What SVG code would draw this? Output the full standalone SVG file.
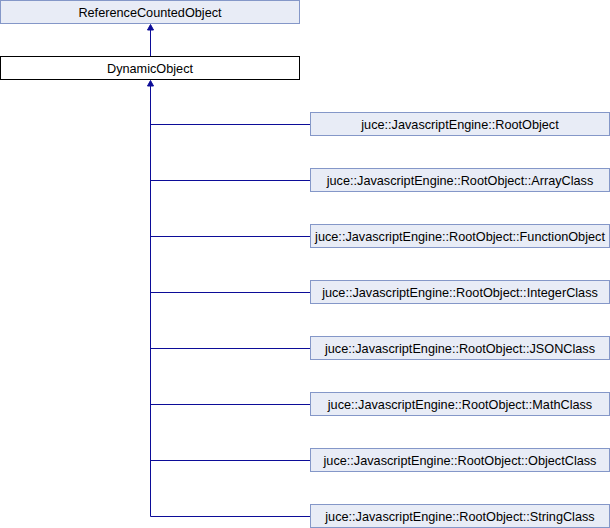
<svg xmlns="http://www.w3.org/2000/svg" width="610" height="528" viewBox="0 0 610 528">
<defs>
<style>
.base{fill:#e8ecf6;stroke:#8497c8;stroke-width:1}
.cur{fill:#ffffff;stroke:#000000;stroke-width:1}
text{font-family:"Liberation Sans",Arial,sans-serif;font-size:12.7px;fill:#000;text-anchor:middle}
.edge{stroke:#0c0c98;stroke-width:1;fill:none}
.head{fill:#0c0c98;stroke:#0c0c98;stroke-width:1}
</style>
</defs>
<rect width="610" height="528" fill="#ffffff"/>
<g id="connectors">
<path class="edge" d="M150.5,56 V29"/>
<polygon class="head" points="150.5,24.5 147.5,30 153.5,30"/>
<path class="edge" d="M150.5,516.5 V85"/>
<polygon class="head" points="150.5,80.5 147.5,86 153.5,86"/>
<path class="edge" d="M150.5,124.5 H310.5 M150.5,180.5 H310.5 M150.5,236.5 H310.5 M150.5,292.5 H310.5 M150.5,348.5 H310.5 M150.5,404.5 H310.5 M150.5,460.5 H310.5 M150.5,516.5 H310.5"/>
</g>
<g id="ReferenceCountedObject">
<rect class="base" x="0.5" y="0.5" width="299" height="23"/>
<text x="150" y="16.5">ReferenceCountedObject</text>
</g>
<g id="DynamicObject">
<rect class="cur" x="0.5" y="56.5" width="299" height="23"/>
<text x="150" y="72.5">DynamicObject</text>
</g>
<g id="RootObject">
<rect class="base" x="310.5" y="112.5" width="299" height="23"/>
<text x="460" y="128.5">juce::JavascriptEngine::RootObject</text>
</g>
<g id="ArrayClass">
<rect class="base" x="310.5" y="168.5" width="299" height="23"/>
<text x="460" y="184.5">juce::JavascriptEngine::RootObject::ArrayClass</text>
</g>
<g id="FunctionObject">
<rect class="base" x="310.5" y="224.5" width="299" height="23"/>
<text x="460" y="240.5">juce::JavascriptEngine::RootObject::FunctionObject</text>
</g>
<g id="IntegerClass">
<rect class="base" x="310.5" y="280.5" width="299" height="23"/>
<text x="460" y="296.5">juce::JavascriptEngine::RootObject::IntegerClass</text>
</g>
<g id="JSONClass">
<rect class="base" x="310.5" y="336.5" width="299" height="23"/>
<text x="460" y="352.5">juce::JavascriptEngine::RootObject::JSONClass</text>
</g>
<g id="MathClass">
<rect class="base" x="310.5" y="392.5" width="299" height="23"/>
<text x="460" y="408.5">juce::JavascriptEngine::RootObject::MathClass</text>
</g>
<g id="ObjectClass">
<rect class="base" x="310.5" y="448.5" width="299" height="23"/>
<text x="460" y="464.5">juce::JavascriptEngine::RootObject::ObjectClass</text>
</g>
<g id="StringClass">
<rect class="base" x="310.5" y="504.5" width="299" height="23"/>
<text x="460" y="520.5">juce::JavascriptEngine::RootObject::StringClass</text>
</g>
</svg>
